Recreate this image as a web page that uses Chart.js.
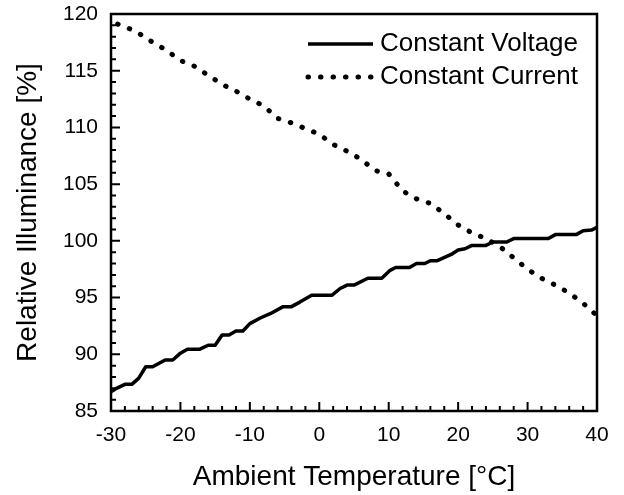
<!DOCTYPE html>
<html>
<head>
<meta charset="utf-8">
<script src="https://cdn.jsdelivr.net/npm/chart.js@4.4.0/dist/chart.umd.min.js"></script>
<style>
  html, body { margin: 0; padding: 0; background: #fff; }
  #chart { display: block; }
</style>
</head>
<body>
<canvas id="chart" width="624" height="495"></canvas>
<script>
// data
const xTicks = [-30, -20, -10, 0, 10, 20, 30, 40];
const yTicks = [85, 90, 95, 100, 105, 110, 115, 120];

const voltageX = [-30, -29.2, -28, -27, -26, -25, -24, -22.2, -21.1, -20,
    -19, -17.2, -16, -15, -14, -13, -12, -11, -10, -8.5,
    -7, -5.2, -4, -2.8, -1.1, 1.8, 3, 4, 5, 7,
    9, 10.2, 11, 13, 14, 15.2, 16, 17, 19, 20,
    21, 22, 24, 25, 27, 28, 33, 34, 37, 38,
    39.2, 40];
const voltageY = [86.7, 87.0, 87.35, 87.35, 87.9, 88.9, 88.9, 89.5, 89.5, 90.1,
    90.45, 90.45, 90.8, 90.8, 91.7, 91.7, 92.05, 92.05, 92.7, 93.2,
    93.6, 94.2, 94.2, 94.6, 95.2, 95.2, 95.8, 96.1, 96.1, 96.7,
    96.7, 97.4, 97.65, 97.65, 98.0, 98.0, 98.25, 98.25, 98.8, 99.2,
    99.3, 99.6, 99.6, 99.9, 99.9, 100.2, 100.2, 100.55, 100.55, 100.9,
    100.95, 101.2];

const currentX = [-30, -28, -26, -24, -22, -20, -18, -16, -14, -12,
    -10, -8, -6, -4, -2, 0, 2, 4, 6, 8,
    10, 12, 14, 16, 18, 20, 22, 24, 26, 28,
    30, 32, 34, 36, 38, 40];
const currentY = [119.3, 118.9, 118.3, 117.5, 116.8, 115.9, 115.4, 114.6, 113.8, 113.2,
    112.5, 111.9, 110.8, 110.4, 109.9, 109.4, 108.5, 107.9, 107.2, 106.2,
    105.9, 104.4, 103.7, 103.3, 102.4, 101.4, 100.7, 100.2, 99.5, 98.5,
    97.5, 96.7, 96.1, 95.4, 94.5, 93.4];

const FONT = "'Liberation Sans', Arial, sans-serif";

function pairs(xs, ys) {
    return xs.map((x, i) => ({ x: x, y: ys[i] }));
}

// frame + inward ticks + legend inside the plot
const framePlugin = {
    id: 'frame',
    afterDraw(chart) {
        const ctx = chart.ctx;
        const a = chart.chartArea;
        const xs = chart.scales.x;
        const ys = chart.scales.y;
        ctx.save();
        ctx.strokeStyle = '#000';

        // ticks
        ctx.lineWidth = 2;
        ctx.beginPath();
        for (let v = xs.min; v <= xs.max + 0.001; v += 2) {
            const px = xs.getPixelForValue(v);
            const len = xTicks.includes(v) ? 9 : 5;
            ctx.moveTo(px, a.bottom);
            ctx.lineTo(px, a.bottom - len);
        }
        for (let v = ys.min; v <= ys.max + 0.001; v += 1) {
            const py = ys.getPixelForValue(v);
            const len = yTicks.includes(v) ? 9 : 5;
            ctx.moveTo(a.left, py);
            ctx.lineTo(a.left + len, py);
        }
        ctx.stroke();

        // box
        ctx.lineWidth = 2.5;
        ctx.strokeRect(a.left, a.top, a.right - a.left, a.bottom - a.top);

        // legend
        const rows = [a.top + 30, a.top + 63];
        chart.data.datasets.forEach((ds, i) => {
            const y = rows[i];
            ctx.beginPath();
            ctx.lineWidth = ds.borderWidth;
            ctx.lineCap = ds.borderCapStyle || 'butt';
            ctx.setLineDash(ds.borderDash || []);
            ctx.lineDashOffset = 0;
            ctx.moveTo(a.left + 197, y);
            ctx.lineTo(a.left + 262, y);
            ctx.stroke();
            ctx.setLineDash([]);
            ctx.fillStyle = '#000';
            ctx.font = '26px ' + FONT;
            ctx.textBaseline = 'middle';
            ctx.textAlign = 'left';
            ctx.fillText(ds.label, a.left + 269, y);
        });
        ctx.restore();
    }
};

new Chart(document.getElementById('chart').getContext('2d'), {
    type: 'line',
    data: {
        datasets: [{
            label: 'Constant Voltage',
            data: pairs(voltageX, voltageY),
            borderColor: '#000',
            borderWidth: 3.5,
            borderCapStyle: 'butt',
            borderJoinStyle: 'round',
            pointRadius: 0,
            tension: 0
        }, {
            label: 'Constant Current',
            data: pairs(currentX, currentY),
            borderColor: '#000',
            borderWidth: 5,
            borderDash: [0.5, 12],
            borderDashOffset: 5.5,
            borderCapStyle: 'round',
            pointRadius: 0,
            tension: 0
        }]
    },
    options: {
        responsive: false,
        animation: false,
        layout: { padding: { left: 0, top: 14, right: 27, bottom: 0 } },
        plugins: {
            legend: { display: false },
            tooltip: { enabled: false }
        },
        scales: {
            x: {
                type: 'linear',
                min: -30,
                max: 40,
                afterBuildTicks(scale) {
                    scale.ticks = xTicks.map(v => ({ value: v }));
                },
                afterFit(scale) {
                    scale.height = 84;
                    scale.paddingLeft = 0;
                    scale.paddingRight = 0;
                },
                grid: { display: false, drawTicks: false },
                border: { display: false },
                ticks: {
                    color: '#000',
                    padding: 12,
                    maxRotation: 0,
                    font: { family: FONT, size: 21 }
                },
                title: {
                    display: true,
                    text: 'Ambient Temperature [\u00B0C]',
                    color: '#000',
                    padding: { top: 0, bottom: 1 },
                    font: { family: FONT, size: 28 }
                }
            },
            y: {
                type: 'linear',
                min: 85,
                max: 120,
                afterBuildTicks(scale) {
                    scale.ticks = yTicks.map(v => ({ value: v }));
                },
                afterFit(scale) {
                    scale.width = 111;
                    scale.paddingTop = 0;
                    scale.paddingBottom = 0;
                },
                grid: { display: false, drawTicks: false },
                border: { display: false },
                ticks: {
                    color: '#000',
                    padding: 13,
                    font: { family: FONT, size: 21 }
                },
                title: {
                    display: true,
                    text: 'Relative Illuminance [%]',
                    color: '#000',
                    padding: { top: 11, bottom: 0 },
                    font: { family: FONT, size: 28 }
                }
            }
        }
    },
    plugins: [framePlugin]
});
</script>
</body>
</html>
